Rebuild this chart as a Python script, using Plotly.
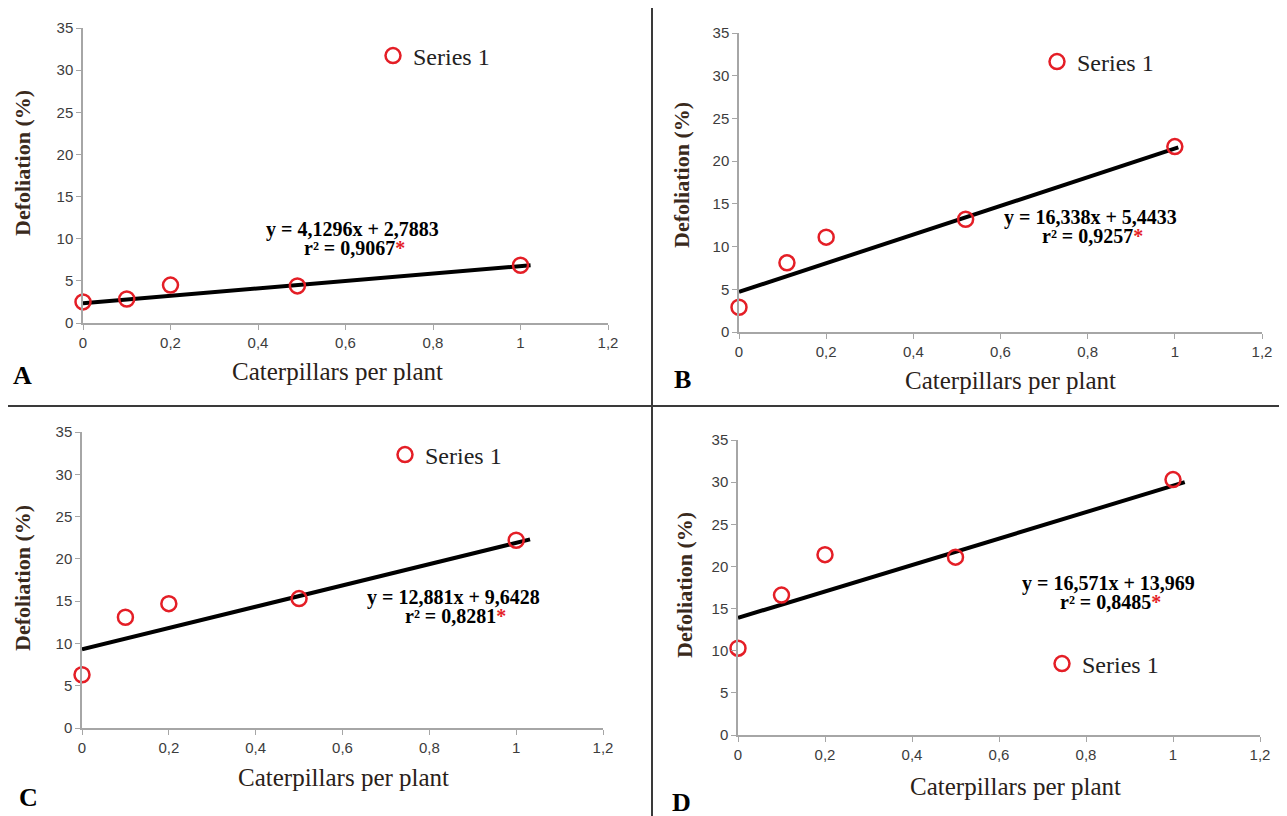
import plotly.graph_objects as go

# ---------------- data ----------------
panels = ["A", "B", "C", "D"]
x_A = [0, 0.1, 0.2, 0.49, 1.0]
y_A = [2.5, 2.85, 4.5, 4.4, 6.85]
x_B = [0, 0.11, 0.2, 0.52, 1.0]
y_B = [2.9, 8.1, 11.1, 13.2, 21.7]
x_C = [0, 0.1, 0.2, 0.5, 1.0]
y_C = [6.3, 13.1, 14.7, 15.3, 22.2]
x_D = [0, 0.1, 0.2, 0.5, 1.0]
y_D = [10.3, 16.6, 21.4, 21.1, 30.3]

# drawn trend lines: start/end x and y
trend_x = {"A": [0, 1.023], "B": [0, 1.008], "C": [0, 1.032], "D": [0, 1.027]}
trend_y = {"A": [2.35, 6.85], "B": [4.7, 21.6], "C": [9.3, 22.3], "D": [13.9, 30.0]}

equations = {
    "A": ("y = 4,1296x + 2,7883", "0,9067"),
    "B": ("y = 16,338x + 5,4433", "0,9257"),
    "C": ("y = 12,881x + 9,6428", "0,8281"),
    "D": ("y = 16,571x + 13,969", "0,8485"),
}
series_name = "Series 1"
x_title = "Caterpillars per plant"
y_title = "Defoliation (%)"

xs = {"A": x_A, "B": x_B, "C": x_C, "D": x_D}
ys = {"A": y_A, "B": y_B, "C": y_C, "D": y_D}

# ---------------- layout geometry (window pixels) ----------------
OFF = 8                      # default body margin of the html page
W, H = 1287 - OFF, 816 - OFF
def px(x): return (x - OFF) / W
def py(y): return 1 - (y - OFF) / H

geom = {
    "A": dict(x0=83, x1=608, yb=323, yt=28),
    "B": dict(x0=739, x1=1262, yb=332, yt=33),
    "C": dict(x0=82, x1=603, yb=728, yt=432),
    "D": dict(x0=738, x1=1260, yb=735, yt=440),
}
xtitle_pos = {"A": (337, 372), "B": (1010, 380), "C": (343, 777), "D": (1015, 786)}
ytitle_pos = {"A": (22, 163), "B": (682, 175), "C": (22, 578), "D": (684, 585)}
legend_pos = {"A": (373, 56), "B": (1037, 62), "C": (385, 455), "D": (1042, 664)}
eq_pos = {"A": (352, 229), "B": (1090, 217), "C": (453, 597), "D": (1108, 583)}
letter_pos = {"A": (22, 376), "B": (682, 379), "C": (28, 797), "D": (681, 802)}

red = "#e41e26"
axis_col = "#a6a6a6"
serif = "Liberation Serif, Times New Roman, serif"
tick_font = dict(family="Liberation Sans Narrow, Liberation Sans, Arial", size=15, color="#3c3c3c")

fig = go.Figure()
layout = dict(
    width=W, height=H,
    margin=dict(l=0, r=0, t=0, b=0, autoexpand=False),
    paper_bgcolor="white", plot_bgcolor="white",
    separators=", ",
    showlegend=True,
    annotations=[], shapes=[],
)

for i, p in enumerate(panels):
    n = "" if i == 0 else str(i + 1)
    g = geom[p]
    xa, ya = "x" + n, "y" + n
    leg = "legend" + n
    fig.add_trace(go.Scatter(
        x=trend_x[p], y=trend_y[p], mode="lines",
        line=dict(color="black", width=4),
        xaxis=xa, yaxis=ya, showlegend=False, hoverinfo="skip", cliponaxis=False,
    ))
    fig.add_trace(go.Scatter(
        x=xs[p], y=ys[p], mode="markers", name=series_name,
        marker=dict(symbol="circle-open", size=15, color=red, line=dict(width=2.5, color=red)),
        xaxis=xa, yaxis=ya, legend=leg, cliponaxis=False,
    ))
    common = dict(
        showline=True, linecolor=axis_col, linewidth=1.5, ticks="outside",
        ticklen=5, tickcolor=axis_col, showgrid=False, zeroline=False,
        tickfont=tick_font, fixedrange=True, automargin=False,
    )
    layout["xaxis" + n] = dict(domain=[px(g["x0"]), px(g["x1"])], range=[0, 1.2],
                               dtick=0.2, anchor=ya, **common)
    layout["yaxis" + n] = dict(domain=[py(g["yb"]), py(g["yt"])], range=[0, 35],
                               dtick=5, anchor=xa, **common)
    lx, ly = legend_pos[p]
    layout[leg] = dict(
        x=px(lx), y=py(ly), xanchor="left", yanchor="middle",
        bgcolor="rgba(0,0,0,0)", borderwidth=0, itemwidth=30,
        font=dict(family=serif, size=24, color="#222222"),
    )
    tx, ty = xtitle_pos[p]
    layout["annotations"].append(dict(
        x=px(tx), y=py(ty), xref="paper", yref="paper", text=x_title, showarrow=False,
        font=dict(family=serif, size=25, color="#2a2118"),
        xanchor="center", yanchor="middle",
    ))
    yx, yy = ytitle_pos[p]
    layout["annotations"].append(dict(
        x=px(yx), y=py(yy), xref="paper", yref="paper", text="<b>" + y_title + "</b>",
        showarrow=False, textangle=-90,
        font=dict(family=serif, size=22, color="#3a2a1c"),
        xanchor="center", yanchor="middle",
    ))
    eq, r2 = equations[p]
    ex, ey = eq_pos[p]
    layout["annotations"].append(dict(
        x=px(ex), y=py(ey), xref="paper", yref="paper",
        text="<b>" + eq + "</b>",
        showarrow=False,
        font=dict(family=serif, size=20, color="black"),
        xanchor="center", yanchor="middle",
    ))
    layout["annotations"].append(dict(
        x=px(ex + 2), y=py(ey + 19), xref="paper", yref="paper",
        text="<b>r² = " + r2 + "</b><span style='color:" + red + "'><b>*</b></span>",
        showarrow=False,
        font=dict(family=serif, size=20, color="black"),
        xanchor="center", yanchor="middle",
    ))
    lx2, ly2 = letter_pos[p]
    layout["annotations"].append(dict(
        x=px(lx2), y=py(ly2), xref="paper", yref="paper", text="<b>" + p + "</b>",
        showarrow=False,
        font=dict(family=serif, size=26, color="black"),
        xanchor="center", yanchor="middle",
    ))

# divider lines between panels
layout["shapes"].append(dict(type="line", xref="paper", yref="paper",
                             x0=0, x1=1, y0=py(406), y1=py(406),
                             line=dict(color="#3a3a3a", width=2)))
layout["shapes"].append(dict(type="line", xref="paper", yref="paper",
                             x0=px(652), x1=px(652), y0=0, y1=1,
                             line=dict(color="#3a3a3a", width=2)))

fig.update_layout(**layout)
fig.write_html("out.html")
